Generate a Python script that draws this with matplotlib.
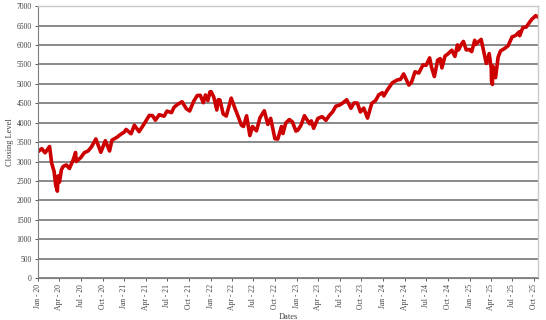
import matplotlib
matplotlib.use("Agg")
import matplotlib.pyplot as plt
import pandas as pd

dates = [
 "2020-01-02","2020-01-17","2020-01-31","2020-02-19","2020-02-28","2020-03-09","2020-03-16","2020-03-23","2020-03-26","2020-04-01",
 "2020-04-09","2020-04-17","2020-04-30","2020-05-13","2020-05-29","2020-06-08","2020-06-11","2020-06-30","2020-07-15","2020-07-31",
 "2020-08-14","2020-09-02","2020-09-23","2020-10-12","2020-10-30","2020-11-09","2020-11-30","2020-12-15","2020-12-31",
 "2021-01-08","2021-01-29","2021-02-12","2021-03-04","2021-03-26","2021-04-16","2021-04-30","2021-05-12","2021-05-28","2021-06-18",
 "2021-06-30","2021-07-19","2021-07-30","2021-08-13","2021-09-02","2021-09-20","2021-10-04","2021-10-21","2021-11-05","2021-11-18",
 "2021-12-01","2021-12-10","2021-12-20","2021-12-29",
 "2022-01-03","2022-01-14","2022-01-27","2022-02-02","2022-02-09","2022-02-23","2022-03-08","2022-03-29","2022-04-11","2022-04-29",
 "2022-05-11","2022-05-20","2022-06-02","2022-06-16","2022-06-27","2022-07-14","2022-07-29","2022-08-16","2022-08-31","2022-09-12",
 "2022-09-30","2022-10-12","2022-10-28","2022-11-03","2022-11-15","2022-11-30","2022-12-13","2022-12-28",
 "2023-01-05","2023-01-18","2023-02-02","2023-02-24","2023-03-03","2023-03-13","2023-03-31","2023-04-18","2023-05-04","2023-05-19",
 "2023-06-02","2023-06-15","2023-06-30","2023-07-14","2023-07-31","2023-08-18","2023-08-31","2023-09-14","2023-09-27","2023-10-11",
 "2023-10-27","2023-11-14","2023-11-30","2023-12-14","2023-12-29",
 "2024-01-04","2024-01-19","2024-02-09","2024-02-29","2024-03-15","2024-03-28","2024-04-19","2024-04-30","2024-05-15","2024-05-31",
 "2024-06-18","2024-07-01","2024-07-16","2024-07-24","2024-08-05","2024-08-19","2024-08-30","2024-09-06","2024-09-19","2024-09-30",
 "2024-10-18","2024-10-31","2024-11-11","2024-11-15","2024-11-29","2024-12-06","2024-12-18","2024-12-31",
 "2025-01-10","2025-01-23","2025-01-27","2025-02-19","2025-03-10","2025-03-13","2025-03-25","2025-04-03","2025-04-04","2025-04-08",
 "2025-04-09","2025-04-21","2025-05-02","2025-05-12","2025-05-30","2025-06-13","2025-06-30","2025-07-15","2025-07-31","2025-08-01",
 "2025-08-15","2025-08-29","2025-09-12","2025-09-22","2025-10-01","2025-10-08","2025-10-15",
]
closing = [
 3258,3330,3225,3386,2954,2746,2386,2237,2630,2470,
 2790,2875,2912,2820,3044,3232,3002,3100,3227,3271,
 3373,3580,3237,3535,3270,3550,3622,3695,3756,
 3825,3714,3934,3768,3975,4185,4181,4063,4204,4166,
 4298,4258,4395,4468,4537,4358,4300,4549,4697,4704,
 4513,4712,4568,4793,
 4796,4662,4326,4589,4587,4225,4170,4631,4413,4132,
 3935,3901,4176,3667,3900,3790,4130,4305,3955,4110,
 3586,3577,3901,3720,3992,4080,4019,3783,
 3808,3929,4179,3970,4045,3855,4109,4154,4061,4191,
 4282,4425,4450,4505,4589,4370,4508,4505,4274,4376,
 4117,4496,4568,4719,4770,
 4688,4840,5026,5096,5117,5254,4967,5036,5308,5277,
 5487,5475,5667,5427,5186,5608,5648,5408,5713,5762,
 5864,5705,6001,5870,6032,6090,5872,5882,
 5827,6119,6012,6144,5615,5522,5777,5397,5074,4983,
 5457,5158,5687,5844,5912,5977,6205,6244,6339,6238,
 6450,6460,6584,6664,6711,6753,6730,
]
y_ticks = list(range(0, 7001, 500))

x = pd.to_datetime(dates)

plt.rcParams['font.family'] = ['Liberation Serif', 'DejaVu Serif']
fig = plt.figure(figsize=(5.46, 3.20), dpi=100)
ax = fig.add_axes([0.0696, 0.131, 0.9154, 0.85])

ax.plot(x, closing, color='#CC0000', linewidth=2.6, solid_joinstyle='round')

ax.set_ylim(0, 7000)
ax.set_yticks(y_ticks)
ax.set_yticklabels([str(v) for v in y_ticks])
ax.yaxis.grid(True, color='#767676', linewidth=1.2)
ax.set_axisbelow(True)

ax.set_xlim(pd.Timestamp("2020-01-01"), pd.Timestamp("2025-10-17"))
ticks = pd.date_range("2020-01-01", "2025-10-01", freq="QS")
ax.set_xticks(ticks)
ax.set_xticklabels([t.strftime("%b - %y") for t in ticks], rotation=90)

ax.tick_params(axis='both', labelsize=5.5, colors='#404040', length=2.5, width=0.6, pad=2)
for s in ['left', 'bottom']:
    ax.spines[s].set_color('#7f7f7f')
    ax.spines[s].set_linewidth(0.8)
for s in ['top', 'right']:
    ax.spines[s].set_color('#c8c8c8')
    ax.spines[s].set_linewidth(1.0)

ax.set_ylabel("Closing Level", fontsize=6, color='#404040', labelpad=2)
ax.set_xlabel("Dates", fontsize=6, color='#404040', labelpad=2)

fig.savefig("out.png", dpi=100)
